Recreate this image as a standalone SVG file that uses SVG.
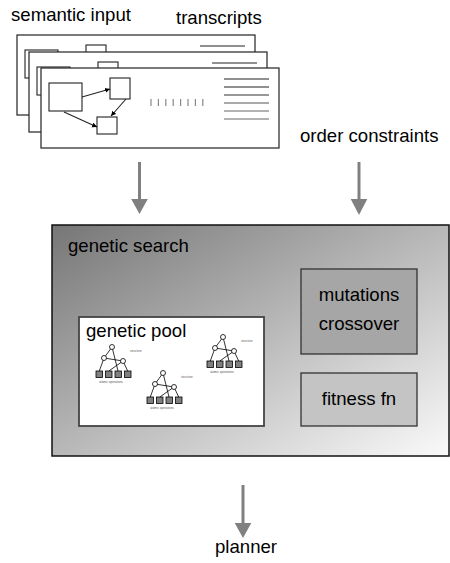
<svg xmlns="http://www.w3.org/2000/svg" xmlns:xlink="http://www.w3.org/1999/xlink" width="450" height="563" viewBox="0 0 450 563">
<style>
text{font-family:"Liberation Sans",Arial,sans-serif;fill:#000}
.lbl{font-size:18.6px}
.pg{fill:#fff;stroke:#222;stroke-width:1.2}
.pr{fill:none;stroke:#222;stroke-width:1.1}
.pl{stroke:#222;stroke-width:1.1}
.flow{stroke:#808080;stroke-width:3;fill:none}
.head{fill:#808080}
.tl{stroke:#000;stroke-width:0.8;fill:none}
.tc{fill:#fff;stroke:#000;stroke-width:0.8}
.ts{fill:#808080;stroke:#000;stroke-width:0.8}
.tiny{font-size:3px;fill:#555}
</style>
<defs>
<linearGradient id="gs" x1="0" y1="0" x2="1" y2="1">
<stop offset="0" stop-color="#767676"/>
<stop offset="1" stop-color="#fafafa"/>
</linearGradient>
<marker id="ah" markerWidth="6" markerHeight="6" refX="5" refY="3" orient="auto" markerUnits="userSpaceOnUse">
<path d="M0,0.5 L5,3 L0,5.5 Z" fill="#000"/>
</marker>
<g id="page">
<rect class="pg" x="41" y="68" width="238" height="80"/>
<rect class="pr" x="49" y="83" width="33" height="28"/>
<rect class="pr" x="110" y="78" width="20" height="21"/>
<rect class="pr" x="97" y="117" width="20" height="17"/>
<line class="pl" x1="82" y1="97" x2="110" y2="89" marker-end="url(#ah)"/>
<line class="pl" x1="126" y1="99" x2="111" y2="116" marker-end="url(#ah)"/>
<line class="pl" x1="64" y1="112" x2="97" y2="127" marker-end="url(#ah)"/>
<g stroke="#888" stroke-width="1.2">
<line x1="151" y1="99" x2="151" y2="106"/><line x1="158.4" y1="99" x2="158.4" y2="106"/>
<line x1="165.8" y1="99" x2="165.8" y2="106"/><line x1="173.2" y1="99" x2="173.2" y2="106"/>
<line x1="180.6" y1="99" x2="180.6" y2="106"/><line x1="188" y1="99" x2="188" y2="106"/>
<line x1="195.4" y1="99" x2="195.4" y2="106"/><line x1="202.8" y1="99" x2="202.8" y2="106"/>
</g>
<g stroke-width="1.2">
<line x1="224" y1="79" x2="269" y2="79" stroke="#222"/>
<line x1="224" y1="87" x2="269" y2="87" stroke="#222"/>
<line x1="224" y1="95" x2="269" y2="95" stroke="#333"/>
<line x1="224" y1="103" x2="269" y2="103" stroke="#555"/>
<line x1="224" y1="111" x2="269" y2="111" stroke="#666"/>
<line x1="224" y1="119" x2="269" y2="119" stroke="#666"/>
</g>
</g>
<g id="tree">
<line class="tl" x1="0" y1="0" x2="-8" y2="11"/>
<line class="tl" x1="0" y1="0" x2="6" y2="24"/>
<line class="tl" x1="-8" y1="11" x2="11" y2="14"/>
<line class="tl" x1="-8" y1="11" x2="-12.7" y2="24"/>
<line class="tl" x1="11" y1="14" x2="-3.2" y2="24"/>
<line class="tl" x1="11" y1="14" x2="15.7" y2="24"/>
<circle class="tc" cx="0" cy="0" r="2.5"/>
<circle class="tc" cx="-8" cy="11" r="2.5"/>
<circle class="tc" cx="11" cy="14" r="2.5"/>
<rect class="ts" x="-16" y="24" width="6.5" height="6.5"/>
<rect class="ts" x="-6.5" y="24" width="6.5" height="6.5"/>
<rect class="ts" x="3" y="24" width="6.5" height="6.5"/>
<rect class="ts" x="12.5" y="24" width="6.5" height="6.5"/>
<text class="tiny" x="18" y="5">structure</text>
<text class="tiny" x="-1" y="36" text-anchor="middle">atomic operations</text>
</g>
</defs>

<g id="inputs">
<use xlink:href="#page" href="#page" transform="translate(-24,-33)"/>
<use xlink:href="#page" href="#page" transform="translate(-12,-16)"/>
<use xlink:href="#page" href="#page"/>
<text class="lbl" x="11" y="21">semantic input</text>
<text class="lbl" x="176" y="24">transcripts</text>
</g>

<g id="order-constraints">
<text class="lbl" x="300" y="142">order constraints</text>
</g>

<g id="genetic-search">
<rect x="52" y="225" width="397" height="231" fill="url(#gs)" stroke="#111" stroke-width="1.5"/>
<text class="lbl" x="68" y="252">genetic search</text>
</g>

<g id="mutations">
<rect x="301" y="269" width="116" height="85" fill="#a6a6a6" stroke="#333" stroke-width="1.3"/>
<text class="lbl" x="359" y="301" text-anchor="middle">mutations</text>
<text class="lbl" x="359" y="330" text-anchor="middle">crossover</text>
</g>

<g id="fitness">
<rect x="301" y="373" width="116" height="53" fill="#c4c4c4" stroke="#333" stroke-width="1.3"/>
<text class="lbl" x="359" y="405" text-anchor="middle">fitness fn</text>
</g>

<g id="genetic-pool">
<rect x="79" y="317" width="185" height="109" fill="#fff" stroke="#444" stroke-width="1.8"/>
<text class="lbl" x="86" y="337">genetic pool</text>
<use xlink:href="#tree" href="#tree" transform="translate(112,347)"/>
<use xlink:href="#tree" href="#tree" transform="translate(163,373)"/>
<use xlink:href="#tree" href="#tree" transform="translate(223,337)"/>
</g>

<g id="planner">
<text class="lbl" x="246" y="553" text-anchor="middle">planner</text>
</g>

<g id="connectors">
<line class="flow" x1="139.5" y1="162" x2="139.5" y2="200"/>
<path class="head" d="M131.2,199 L147.8,199 L139.5,214 Z"/>
<line class="flow" x1="359" y1="162" x2="359" y2="200"/>
<path class="head" d="M350.7,199 L367.3,199 L359,215 Z"/>
<line class="flow" x1="243" y1="485" x2="243" y2="524"/>
<path class="head" d="M234.7,523 L251.3,523 L243,538 Z"/>
</g>
</svg>
